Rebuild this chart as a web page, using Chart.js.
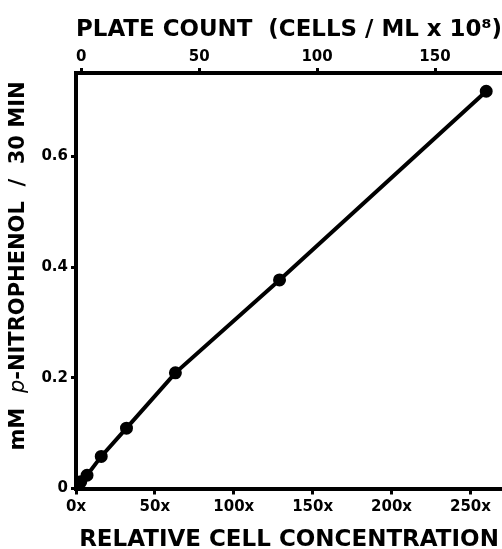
<!DOCTYPE html>
<html>
<head>
<meta charset="utf-8">
<script src="https://cdn.jsdelivr.net/npm/chart.js@4/dist/chart.umd.min.js"></script>
<style>
  html, body { margin: 0; padding: 0; background: #fff; overflow: hidden; }
  #wrap { width: 502px; height: 549px; }
</style>
</head>
<body>
<div id="wrap"><canvas id="enzChart" width="502" height="549"></canvas></div>
<script>
// relative cell concentration (bottom axis) vs mM p-nitrophenol / 30 min
const relConc = [0, 3, 7, 16, 32, 63, 129, 260];
const nitrophenol = [0, 0.012, 0.024, 0.058, 0.109, 0.209, 0.377, 0.718];
const bottomTicks = [0, 50, 100, 150, 200, 250];
const plateTicks = [0, 50, 100, 150];
const yTicks = [0, 0.2, 0.4, 0.6];

const points = relConc.map((x, i) => ({ x: x, y: nitrophenol[i] }));

const tickFont = { family: "DejaVu Sans", size: 15, weight: "bold" };
const titleFont = { family: "DejaVu Sans", size: 23, weight: "bold" };

// y title drawn by hand so the "p" can be italic
const yTitle = {
  id: "yTitle",
  afterDraw(chart) {
    const c = chart.ctx;
    const parts = [
      ["mM  ", "bold 21px 'DejaVu Sans'"],
      ["p", "italic 21px 'DejaVu Sans'"],
      ["-NITROPHENOL  /  30 MIN", "bold 21px 'DejaVu Sans'"],
    ];
    let total = 0;
    parts.forEach((p) => { c.font = p[1]; total += c.measureText(p[0]).width; });
    c.save();
    c.translate(19, 266);
    c.rotate(-Math.PI / 2);
    c.fillStyle = "#000";
    c.textBaseline = "middle";
    let x = -total / 2;
    parts.forEach((p) => {
      c.font = p[1];
      c.fillText(p[0], x, 0);
      x += c.measureText(p[0]).width;
    });
    c.restore();
  },
};

const ctx = document.getElementById("enzChart").getContext("2d");
const enzChart = new Chart(ctx, {
  type: "scatter",
  data: {
    datasets: [
      {
        data: points,
        showLine: true,
        borderColor: "#000",
        backgroundColor: "#000",
        borderWidth: 4,
        // no dot on the origin, the line just starts there
        pointRadius: (c) => (c.dataIndex === 0 ? 0 : 4.5),
        pointHoverRadius: (c) => (c.dataIndex === 0 ? 0 : 4.5),
        clip: false,
        xAxisID: "x",
        yAxisID: "y",
      },
    ],
  },
  plugins: [yTitle],
  options: {
    responsive: false,
    animation: false,
    layout: { padding: 0, autoPadding: false },
    plugins: {
      legend: { display: false },
      tooltip: { enabled: false },
    },
    scales: {
      x: {
        type: "linear",
        position: "bottom",
        min: 0,
        max: 270,
        afterBuildTicks: (s) => { s.ticks = bottomTicks.map((v) => ({ value: v })); },
        afterFit: (s) => { s.height = 60.5; s.paddingLeft = 0; s.paddingRight = 0; },
        ticks: {
          color: "#000",
          font: tickFont,
          padding: 4,
          maxRotation: 0,
          callback: (v) => v + "x",
        },
        grid: { drawOnChartArea: false, color: "#000", lineWidth: 3, tickLength: 6 },
        border: { color: "#000", width: 4 },
        title: { display: true, text: "RELATIVE CELL CONCENTRATION", color: "#000", font: titleFont, padding: { top: 0, bottom: -5 } },
      },
      x2: {
        type: "linear",
        position: "top",
        display: true,
        min: -2.2,
        max: 178.4,
        afterBuildTicks: (s) => { s.ticks = plateTicks.map((v) => ({ value: v })); },
        afterFit: (s) => { s.height = 73; s.paddingLeft = 0; s.paddingRight = 0; },
        ticks: { color: "#000", font: tickFont, padding: 2, maxRotation: 0 },
        grid: { drawOnChartArea: false, color: "#000", lineWidth: 3, tickLength: 5 },
        border: { color: "#000", width: 4 },
        title: { display: true, text: "PLATE COUNT  (CELLS / ML x 10\u2078)", color: "#000", font: titleFont, padding: { top: 16, bottom: 0 } },
      },
      y: {
        type: "linear",
        min: 0,
        max: 0.751,
        afterBuildTicks: (s) => { s.ticks = yTicks.map((v) => ({ value: v })); },
        afterFit: (s) => { s.width = 76; },
        ticks: {
          color: "#000",
          font: tickFont,
          padding: 3,
          callback: (v) => (v === 0 ? "0" : v.toFixed(1)),
        },
        grid: { drawOnChartArea: false, color: "#000", lineWidth: 3, tickLength: 5 },
        border: { color: "#000", width: 4 },
      },
    },
  },
});
</script>
</body>
</html>
